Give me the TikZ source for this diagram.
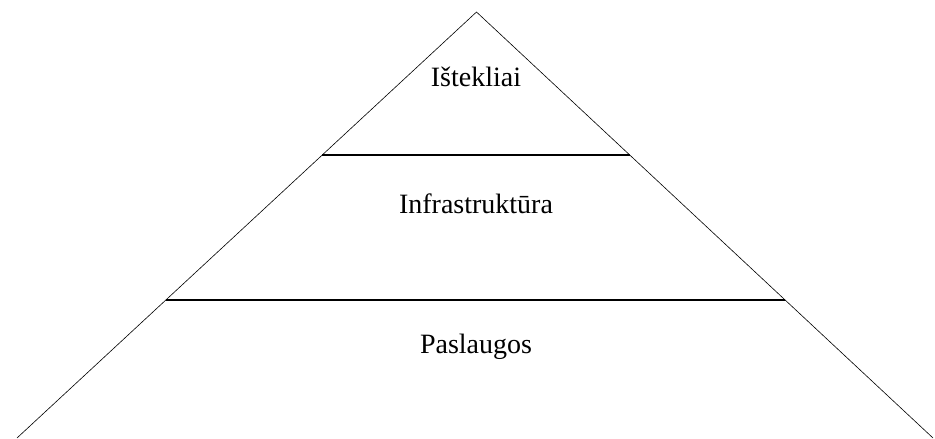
\documentclass[tikz,border=0pt]{standalone}
\usepackage{fontspec}
\setmainfont{Liberation Serif}
\usetikzlibrary{calc}

\tikzset{
    side/.style={draw=black, line width=0.6pt},
    layer/.style={draw=black, line width=1.1pt},
    level/.style={anchor=base, font=\fontsize{28}{32}\selectfont}
}

\begin{document}
\begin{tikzpicture}[x=1pt, y=-1pt]
    \useasboundingbox (0, 0) rectangle (935, 439);

    % pyramid corners
    \coordinate (top) at (476.5, 12);
    \coordinate (bl) at (17, 438);
    \coordinate (br) at (933, 438);

    % layer borders
    \coordinate (l1) at ($(top)!0.3357!(bl)$);
    \coordinate (r1) at ($(top)!0.3357!(br)$);
    \coordinate (l2) at ($(top)!0.676!(bl)$);
    \coordinate (r2) at ($(top)!0.676!(br)$);

    \draw[side] (bl) -- (top) -- (br);
    \draw[layer] (l1) -- (r1);
    \draw[layer] (l2) -- (r2);

    % labels
    \node[level] (istekliai) at (476, 86) {Ištekliai};
    \node[level] (infra) at (476, 213) {Infrastruktūra};
    \node[level] (paslaugos) at (476, 353) {Paslaugos};

\end{tikzpicture}
\end{document}
